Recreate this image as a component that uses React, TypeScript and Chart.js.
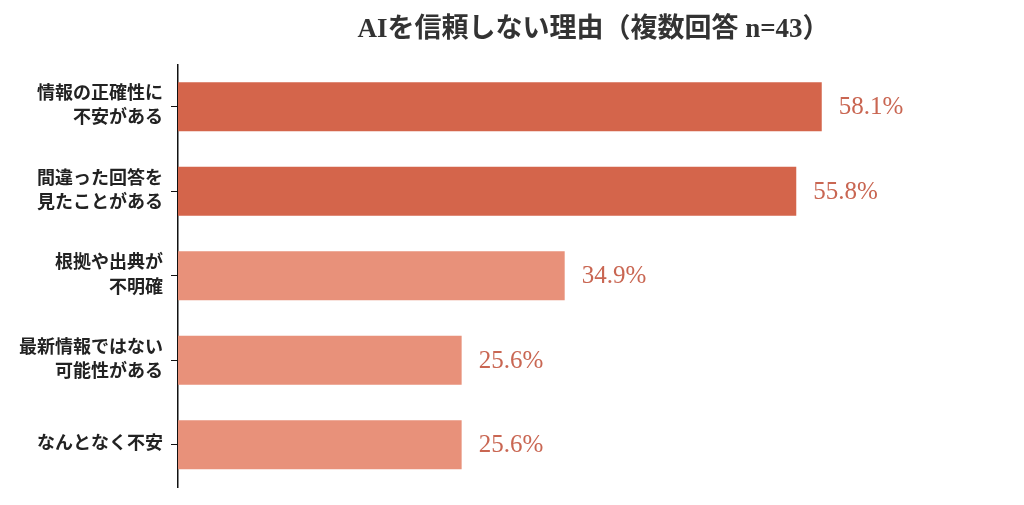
import { useEffect, useRef } from "react";
import { Chart, registerables } from "chart.js";
import type { Plugin } from "chart.js";

Chart.register(...registerables);

const TITLE = "AIを信頼しない理由（複数回答 n=43）";
const CATEGORIES = [
  ["情報の正確性に", "不安がある"],
  ["間違った回答を", "見たことがある"],
  ["根拠や出典が", "不明確"],
  ["最新情報ではない", "可能性がある"],
  ["なんとなく不安"],
];
const VALUES = [58.1, 55.8, 34.9, 25.6, 25.6];
const BAR_COLORS = ["#d4654b", "#d4654b", "#e8917a", "#e8917a", "#e8917a"];

const SERIF = "'Liberation Serif', 'Noto Sans CJK JP', serif";

const valueLabels: Plugin<"bar"> = {
  id: "valueLabels",
  afterDatasetsDraw(chart) {
    const { ctx } = chart;
    const meta = chart.getDatasetMeta(0);
    ctx.save();
    ctx.fillStyle = "#c96652";
    ctx.font = `25px ${SERIF}`;
    ctx.textAlign = "left";
    ctx.textBaseline = "middle";
    meta.data.forEach((bar, i) => {
      ctx.fillText(`${VALUES[i].toFixed(1)}%`, bar.x + 17, bar.y + 1);
    });
    ctx.restore();
  },
};

export default function App() {
  const canvasRef = useRef<HTMLCanvasElement>(null);
  const chartRef = useRef<Chart | null>(null);

  useEffect(() => {
    if (!canvasRef.current) return;
    chartRef.current?.destroy();

    chartRef.current = new Chart(canvasRef.current, {
      type: "bar",
      data: {
        labels: CATEGORIES,
        datasets: [
          {
            data: VALUES,
            backgroundColor: BAR_COLORS,
            borderWidth: 0,
            categoryPercentage: 1,
            barPercentage: 0.58,
          },
        ],
      },
      options: {
        indexAxis: "y",
        animation: false,
        responsive: true,
        maintainAspectRatio: false,
        layout: { padding: { left: 0, right: 15, top: 0, bottom: 18 } },
        plugins: {
          legend: { display: false },
          tooltip: { enabled: false },
          title: {
            display: true,
            text: TITLE,
            fullSize: false,
            color: "#333333",
            font: { family: SERIF, size: 27, weight: "bold", lineHeight: 1.2 },
            padding: { top: 14, bottom: 18 },
          },
        },
        scales: {
          x: {
            display: false,
            min: 0,
            max: 75,
          },
          y: {
            afterFit: (scale) => {
              scale.width = 178;
              scale.paddingTop = 0;
              scale.paddingBottom = 0;
            },
            grid: {
              offset: false,
              drawOnChartArea: false,
              tickLength: 7,
              color: "#111111",
            },
            border: { display: true, color: "#111111", width: 1.5 },
            ticks: {
              color: "#222222",
              padding: 8,
              font: { family: SERIF, size: 18, weight: "bold", lineHeight: 1.35 },
            },
          },
        },
      },
      plugins: [valueLabels],
    });

    return () => {
      chartRef.current?.destroy();
      chartRef.current = null;
    };
  }, []);

  return (
    <div style={{ position: "fixed", left: 0, top: 0, width: 1024, height: 505, background: "#ffffff" }}>
      <canvas ref={canvasRef} />
    </div>
  );
}
